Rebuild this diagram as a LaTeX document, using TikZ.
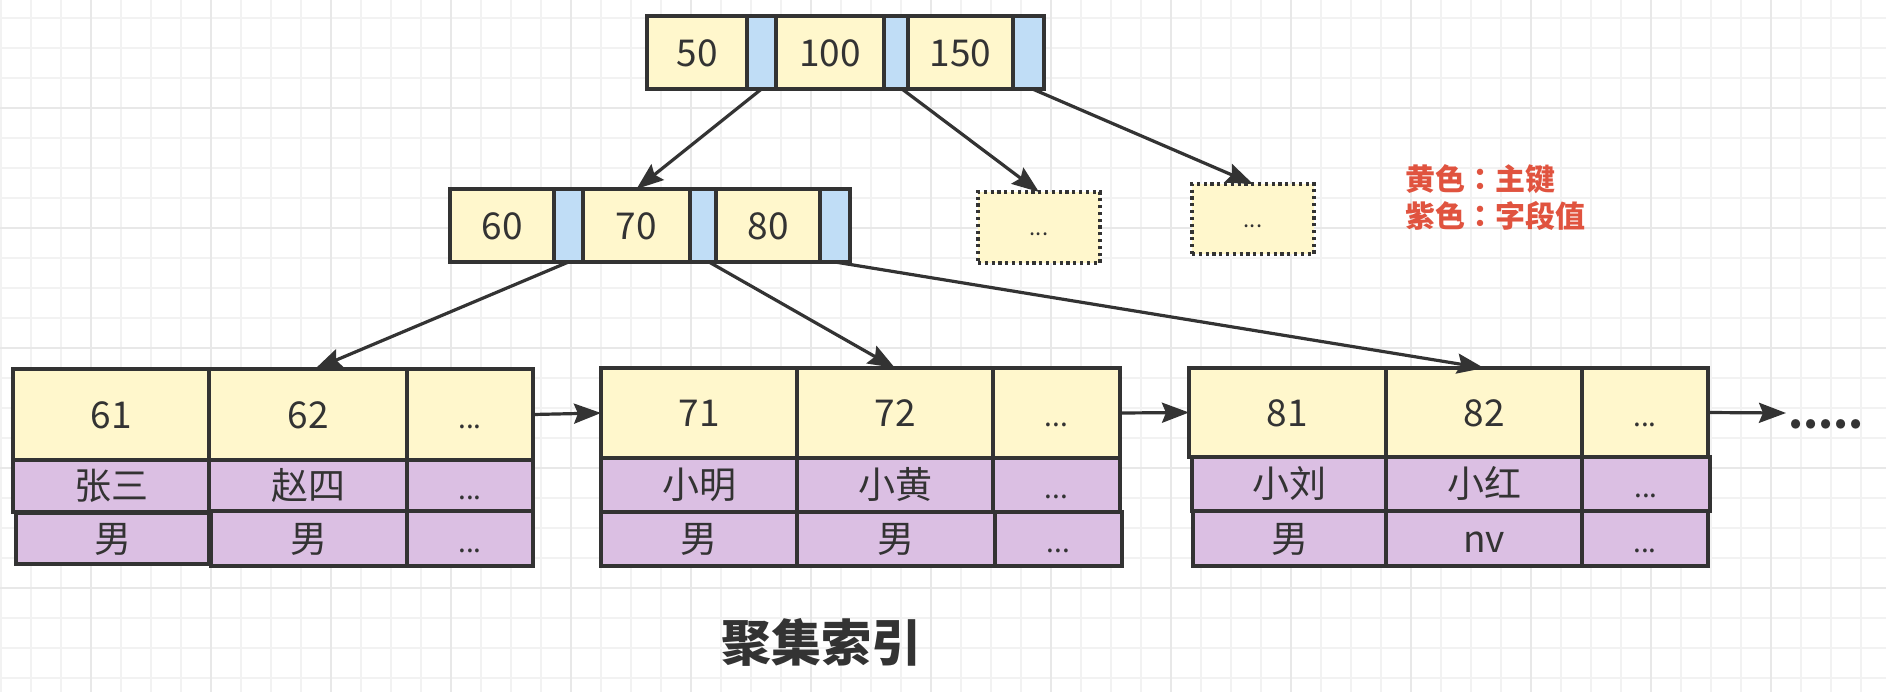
\documentclass[tikz,border=0pt]{standalone}
\usepackage{fontspec}
\setmainfont{Noto Sans CJK SC}
\newfontfamily\tcfont{Noto Sans CJK TC}
\usetikzlibrary{arrows.meta}
\definecolor{ink}{HTML}{333333}
\definecolor{ykey}{HTML}{FFF7CC}
\definecolor{bptr}{HTML}{C0DDF6}
\definecolor{pval}{HTML}{DBBFE3}
\definecolor{legred}{HTML}{E0533F}
\definecolor{gridminor}{HTML}{F2F2F2}
\definecolor{gridmajor}{HTML}{E8E8E8}
\newcommand\cellbox[7]{\node[#1, minimum width={(#5-(#3))*0.5pt}, minimum height={(#6-(#4))*0.5pt}] (#2) at ({(#3+#5)/2},{(#4+#6)/2}) {#7};}
\newcommand\celldots{{\fontsize{14}{15}\selectfont ...}}
\newcommand\colonc{{\tcfont\bfseries ：}}
\tikzset{
  cellbase/.style={draw=ink, line width=1.75pt, inner sep=0pt, outer sep=0pt,
    font=\fontsize{18.5}{20}\selectfont, text=ink, text height=14.8pt, text depth=1.1pt, anchor=center},
  ycell/.style={cellbase, fill=ykey},
  bcell/.style={cellbase, fill=bptr},
  pcell/.style={cellbase, fill=pval},
  dotbox/.style={cellbase, line width=1.6pt, fill=ykey, dash pattern=on 1.6pt off 1.8pt,
    font=\fontsize{11}{12}\selectfont, text height=8.8pt, text depth=0.7pt},
  arr/.style={draw=ink, line width=1.6pt, -{Stealth[length=13.5pt,width=10pt,inset=2pt]}},
  legend/.style={font=\bfseries\fontsize{15}{16}\selectfont, text=legred, anchor=base west, inner sep=0pt},
}
\begin{document}
\begin{tikzpicture}[x=0.5pt,y=-0.5pt]
\useasboundingbox (0,0) rectangle (1886,692);
\fill[white] (0,0) rectangle (1886,692);
% grid
\foreach \gx in {1,31,...,1886} \draw[gridminor, line width=1pt] (\gx,0) -- (\gx,692);
\foreach \gy in {18,48,...,692} \draw[gridminor, line width=1pt] (0,\gy) -- (1886,\gy);
\foreach \gx in {91,211,...,1886} \draw[gridmajor, line width=1pt] (\gx,0) -- (\gx,692);
\foreach \gy in {108,228,...,692} \draw[gridmajor, line width=1pt] (0,\gy) -- (1886,\gy);

% root
\cellbox{ycell}{t50}{647}{16}{747}{89}{50}
\cellbox{bcell}{tb1}{747}{16}{776}{89}{}
\cellbox{ycell}{t100}{776}{16}{884}{89}{100}
\cellbox{bcell}{tb2}{884}{16}{908}{89}{}
\cellbox{ycell}{t150}{908}{16}{1013}{89}{150}
\cellbox{bcell}{tb3}{1013}{16}{1044}{89}{}

% level 2
\cellbox{ycell}{s60}{450}{189}{554}{262}{60}
\cellbox{bcell}{sb1}{554}{189}{583}{262}{}
\cellbox{ycell}{s70}{583}{189}{690}{262}{70}
\cellbox{bcell}{sb2}{690}{189}{716}{262}{}
\cellbox{ycell}{s80}{716}{189}{820}{262}{80}
\cellbox{bcell}{sb3}{820}{189}{850}{262}{}

% dotted boxes
\cellbox{dotbox}{d1}{978}{192}{1100}{263}{...}
\cellbox{dotbox}{d2}{1192}{184}{1314}{254}{...}

% leaf 1
\cellbox{ycell}{a61}{13}{369}{209}{460}{61}
\cellbox{ycell}{a62}{209}{369}{407}{460}{62}
\cellbox{ycell}{a6d}{407}{369}{533}{460}{\celldots}
\cellbox{pcell}{a1n}{13}{460}{209}{512}{张三}
\cellbox{pcell}{a2n}{209}{460}{407}{511}{赵四}
\cellbox{pcell}{a3n}{407}{460}{533}{511}{\celldots}
\cellbox{pcell}{a1s}{16}{513}{209}{564}{男}
\cellbox{pcell}{a2s}{211}{511}{407}{566}{男}
\cellbox{pcell}{a3s}{407}{511}{533}{566}{\celldots}

% leaf 2
\cellbox{ycell}{b71}{601}{368}{797}{458}{71}
\cellbox{ycell}{b72}{797}{368}{993}{458}{72}
\cellbox{ycell}{b7d}{993}{368}{1120}{458}{\celldots}
\cellbox{pcell}{b1n}{601}{458}{797}{512}{小明}
\cellbox{pcell}{b2n}{797}{458}{993}{512}{小黄}
\cellbox{pcell}{b3n}{993}{458}{1120}{512}{\celldots}
\cellbox{pcell}{b1s}{601}{512}{797}{566}{男}
\cellbox{pcell}{b2s}{797}{512}{995}{566}{男}
\cellbox{pcell}{b3s}{995}{512}{1122}{566}{\celldots}

% leaf 3
\cellbox{ycell}{c81}{1189}{368}{1386}{457}{81}
\cellbox{ycell}{c82}{1386}{368}{1582}{457}{82}
\cellbox{ycell}{c8d}{1582}{368}{1708}{457}{\celldots}
\cellbox{pcell}{c1n}{1192}{457}{1386}{511}{小刘}
\cellbox{pcell}{c2n}{1386}{457}{1582}{511}{小红}
\cellbox{pcell}{c3n}{1582}{457}{1710}{511}{\celldots}
\cellbox{pcell}{c1s}{1193}{511}{1386}{566}{男}
\cellbox{pcell}{c2s}{1386}{511}{1582}{566}{nv}
\cellbox{pcell}{c3s}{1582}{511}{1708}{566}{\celldots}

% tree arrows
\draw[arr] (tb1.south) -- (s70.north);
\draw[arr] ([xshift=3pt]tb2.south) -- (d1.north);
\draw[arr] ([xshift=2pt]tb3.south) -- (d2.north);
\draw[arr] (sb1.south) -- ([xshift=3.5pt]a62.north);
\draw[arr] ([xshift=3pt]sb2.south) -- (b72.north);
\draw[arr] (sb3.south) -- (c82.north);

% leaf links
\draw[arr] (a6d.east) -- (b71.west);
\draw[arr] (b7d.east) -- (c81.west);
\coordinate (tailend) at (1786,413);
\draw[arr] (c8d.east) -- (tailend);
\node[font=\bfseries\fontsize{21.5}{23}\selectfont, text=ink, anchor=base west, inner sep=0pt] (more) at (1788,428) {.....};

% legend
\node[legend] (legA) at (1405,190) {黄色\colonc 主键};
\node[legend] (legB) at (1405,227) {紫色\colonc 字段值};

% title
\node[font=\bfseries\fontsize{25}{26}\selectfont, text=ink, anchor=base, inner sep=0pt] (title) at (821,661) {聚集索引};
\end{tikzpicture}
\end{document}
